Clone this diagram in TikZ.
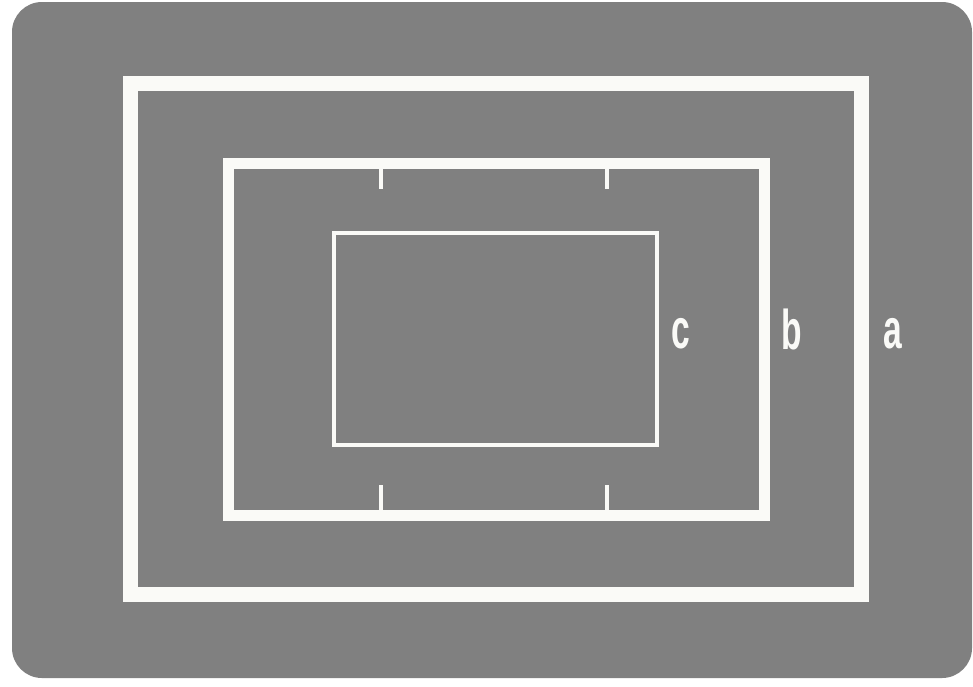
\documentclass[tikz,border=0pt]{standalone}
\usepackage{fontspec}
\setmainfont{Liberation Sans}
\definecolor{panel}{HTML}{808080}
\definecolor{chalk}{HTML}{FAFAF7}
\tikzset{
  frameA/.style={draw=chalk,line width=15*0.75pt},
  frameB/.style={draw=chalk,line width=11*0.75pt},
  frameC/.style={draw=chalk,line width=4.5*0.75pt},
  tick/.style={draw=chalk,line width=3.5*0.75pt},
  lbl/.style={text=chalk,font=\bfseries\fontsize{42}{42}\selectfont,xscale=0.6,anchor=base,inner sep=0pt}
}
\begin{document}
\begin{tikzpicture}[x=0.75pt,y=-0.75pt]
\useasboundingbox (0,0) rectangle (973,686);
\fill[white] (0,0) rectangle (973,686);
\fill[panel,rounded corners=30*0.75pt] (12,2) rectangle (972,678);
\draw[frameA] (130,83) rectangle (861,594);
\draw[frameB] (228,163) rectangle (764,515);
\draw[frameC] (334,233) rectangle (657,445);
\coordinate (t1a) at (381,168); \coordinate (t1b) at (381,189);
\coordinate (t2a) at (607,168); \coordinate (t2b) at (607,189);
\coordinate (b1a) at (381,510); \coordinate (b1b) at (381,485);
\coordinate (b2a) at (607,510); \coordinate (b2b) at (607,485);
\draw[tick] (t1a) -- (t1b);
\draw[tick] (t2a) -- (t2b);
\draw[tick] (b1a) -- (b1b);
\draw[tick] (b2a) -- (b2b);
\node[lbl] (lc) at (681,348) {c};
\node[lbl] (lb) at (792,349) {b};
\node[lbl] (la) at (893,348) {a};
\end{tikzpicture}
\end{document}
